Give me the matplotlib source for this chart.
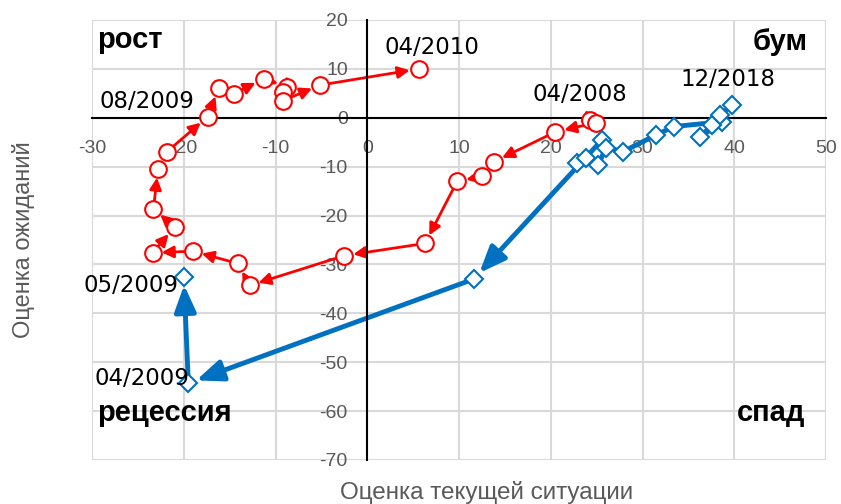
import matplotlib.pyplot as plt

plt.rcParams["axes.unicode_minus"] = False

# red series: 04/2008 .. 04/2010
red_x = [24.3, 24.9, 20.5, 13.8, 12.5, 9.8, 6.3, -2.5, -12.8, -14.1, -19.0, -23.4, -21.0,
         -23.3, -22.8, -21.8, -17.4, -16.2, -14.5, -11.3, -8.8, -9.2, -9.2, -5.1, 5.6]
red_y = [-0.4, -1.0, -2.9, -9.0, -12.0, -13.0, -25.7, -28.2, -34.3, -29.8, -27.3, -27.6, -22.4,
         -18.6, -10.4, -6.9, 0.2, 6.1, 4.9, 8.0, 6.3, 5.3, 3.5, 6.7, 10.0]

# blue series, part 1 (crash 2009)
blue1_x = [25.6, 11.6, -19.5, -20.0]
blue1_y = [-4.5, -33.0, -54.3, -32.5]
# blue series, part 2 (up to 12/2018)
blue2_x = [22.9, 23.8, 25.2, 26.0, 27.9, 31.5, 33.4, 38.7, 36.3, 37.6, 38.5, 39.8]
blue2_y = [-9.2, -8.2, -9.6, -6.1, -6.9, -3.5, -1.8, -0.8, -3.9, -1.4, 0.6, 2.7]

RED = "#FF0000"
BLUE = "#0070C0"
GRAY = "#595959"

fig = plt.figure(figsize=(8.41, 5.04), dpi=100)
ax = fig.add_axes([92/841, 1-460/504, (826-92)/841, (460-20)/504])

ax.set_xlim(-30, 50)
ax.set_ylim(-70, 20)
ax.set_xticks(range(-30, 51, 10))
ax.set_yticks(range(-70, 21, 10))
ax.grid(True, color="#D9D9D9", lw=1.5)
ax.set_axisbelow(True)
ax.spines["top"].set_visible(False)
ax.spines["right"].set_visible(False)
ax.spines["left"].set_position(("data", 0))
ax.spines["bottom"].set_position(("data", 0))
ax.spines["left"].set_linewidth(1.5)
ax.spines["bottom"].set_linewidth(1.5)
ax.tick_params(length=0, labelsize=14, labelcolor=GRAY)
ax.tick_params(axis="x", pad=16)
ax.tick_params(axis="y", pad=14)
for lab in ax.get_xticklabels() + ax.get_yticklabels():
    lab.set_fontfamily("Liberation Sans")


def arrows(xs, ys, color, lw, hl, hw, shrink):
    for i in range(len(xs) - 1):
        ax.annotate("", xy=(xs[i+1], ys[i+1]), xytext=(xs[i], ys[i]),
                    arrowprops=dict(arrowstyle=f"-|>,head_length={hl},head_width={hw}",
                                    color=color, lw=lw, shrinkA=0, shrinkB=shrink),
                    zorder=2)


arrows(red_x, red_y, RED, 2, 0.7, 0.35, 6.5)
ax.plot(red_x, red_y, "o", ms=12, mfc="white", mec=RED, mew=1.5, zorder=3)

arrows(blue1_x, blue1_y, BLUE, 3.5, 1.6, 0.65, 6)
ax.plot(blue2_x, blue2_y, "-", color=BLUE, lw=3.5, zorder=2)
ax.plot(blue1_x, blue1_y, "D", ms=9.5, mfc="white", mec=BLUE, mew=1.5, zorder=3)
ax.plot(blue2_x, blue2_y, "D", ms=9.5, mfc="white", mec=BLUE, mew=1.5, zorder=3)

qfont = dict(fontsize=21, fontweight="bold", family="Liberation Sans", va="center")
ax.text(-29.4, 16, "рост", ha="left", **qfont)
ax.text(48, 15.5, "бум", ha="right", **qfont)
ax.text(-29.4, -60.3, "рецессия", ha="left", **qfont)
ax.text(47.7, -60.3, "спад", ha="right", **qfont)

dfont = dict(fontsize=16.5, va="center")
ax.text(7, 14.3, "04/2010", ha="center", **dfont)
ax.text(-24, 3.3, "08/2009", ha="center", **dfont)
ax.text(23.2, 4.7, "04/2008", ha="center", **dfont)
ax.text(39.3, 7.8, "12/2018", ha="center", **dfont)
ax.text(-20.6, -34.4, "05/2009", ha="right", **dfont)
ax.text(-19.4, -53.4, "04/2009", ha="right", **dfont)

fig.text(487/841, 1-492/504, "Оценка текущей ситуации", ha="center", va="center",
         fontsize=17.5, color=GRAY, family="Liberation Sans")
fig.text(24/841, 1-240/504, "Оценка ожиданий", ha="center", va="center", rotation=90,
         fontsize=17, color=GRAY, family="Liberation Sans")

fig.savefig("out.png", dpi=100)
